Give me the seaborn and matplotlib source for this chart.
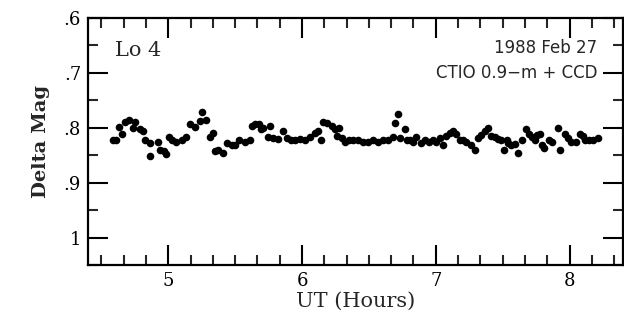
import numpy as np
import pandas as pd
import matplotlib
matplotlib.use("Agg")
import matplotlib.pyplot as plt
from matplotlib.ticker import MultipleLocator, FixedLocator, FuncFormatter
import seaborn as sns

ut_hours = [4.587, 4.612, 4.629, 4.654, 4.679, 4.704, 4.737, 4.754, 4.786, 4.811,
            4.828, 4.860, 4.866, 4.920, 4.935, 4.965, 4.985, 5.002, 5.028, 5.060,
            5.102, 5.134, 5.164, 5.201, 5.239, 5.250, 5.284, 5.310, 5.335, 5.351,
            5.375, 5.408, 5.438, 5.475, 5.500, 5.532, 5.575, 5.612, 5.625, 5.649,
            5.681, 5.692, 5.711, 5.749, 5.761, 5.786, 5.823, 5.860, 5.886, 5.916,
            5.948, 5.985, 6.022, 6.060, 6.097, 6.119, 6.140, 6.157, 6.187, 6.222,
            6.246, 6.259, 6.278, 6.296, 6.321, 6.353, 6.383, 6.420, 6.457, 6.495,
            6.532, 6.569, 6.602, 6.644, 6.677, 6.694, 6.719, 6.731, 6.769, 6.786,
            6.806, 6.831, 6.856, 6.886, 6.918, 6.950, 6.980, 7.005, 7.035, 7.054,
            7.080, 7.104, 7.129, 7.154, 7.179, 7.204, 7.229, 7.266, 7.291, 7.316,
            7.341, 7.366, 7.390, 7.416, 7.440, 7.465, 7.490, 7.507, 7.532, 7.540,
            7.565, 7.590, 7.614, 7.647, 7.672, 7.696, 7.722, 7.739, 7.756, 7.781,
            7.796, 7.813, 7.846, 7.871, 7.913, 7.931, 7.963, 7.988, 8.013, 8.045,
            8.075, 8.099, 8.119, 8.149, 8.179, 8.211]
delta_mag = [0.822, 0.822, 0.798, 0.812, 0.789, 0.786, 0.800, 0.789, 0.803, 0.806,
             0.822, 0.828, 0.852, 0.825, 0.840, 0.843, 0.848, 0.817, 0.823, 0.825,
             0.822, 0.817, 0.794, 0.799, 0.788, 0.772, 0.786, 0.817, 0.809, 0.842,
             0.840, 0.846, 0.828, 0.831, 0.831, 0.823, 0.825, 0.822, 0.797, 0.793,
             0.793, 0.803, 0.801, 0.817, 0.797, 0.819, 0.820, 0.806, 0.819, 0.822,
             0.822, 0.820, 0.822, 0.817, 0.809, 0.806, 0.823, 0.789, 0.791, 0.797,
             0.803, 0.815, 0.800, 0.819, 0.825, 0.823, 0.823, 0.823, 0.825, 0.825,
             0.823, 0.825, 0.822, 0.823, 0.817, 0.791, 0.774, 0.819, 0.803, 0.823,
             0.822, 0.825, 0.817, 0.828, 0.823, 0.825, 0.822, 0.825, 0.819, 0.831,
             0.815, 0.809, 0.806, 0.812, 0.822, 0.823, 0.825, 0.831, 0.840, 0.819,
             0.814, 0.806, 0.800, 0.815, 0.817, 0.820, 0.822, 0.840, 0.823, 0.828,
             0.831, 0.830, 0.846, 0.823, 0.803, 0.812, 0.817, 0.822, 0.814, 0.811,
             0.831, 0.837, 0.823, 0.825, 0.800, 0.840, 0.812, 0.819, 0.825, 0.825,
             0.811, 0.815, 0.822, 0.822, 0.822, 0.819]

x_major = [5, 6, 7, 8]
y_major = [0.6, 0.7, 0.8, 0.9, 1.0]
y_tick_labels = [".6", ".7", ".8", ".9", "1"]

df = pd.DataFrame({"UT": ut_hours, "dmag": delta_mag})

sns.set_style("ticks")
plt.rcParams["axes.linewidth"] = 1.6

fig = plt.figure(figsize=(6.24, 3.21), dpi=100)
ax = fig.add_axes([88 / 624, 1 - 265 / 321, (623 - 88) / 624, (265 - 18) / 321])

sns.scatterplot(data=df, x="UT", y="dmag", ax=ax, color="black", s=30,
                edgecolor="black", linewidth=0, legend=False)

ax.set_xlim(4.4, 8.4)
ax.set_ylim(1.05, 0.6)

ax.xaxis.set_major_locator(FixedLocator(x_major))
ax.xaxis.set_minor_locator(MultipleLocator(1 / 6))
ax.yaxis.set_major_locator(FixedLocator(y_major))
ax.yaxis.set_minor_locator(MultipleLocator(0.05))
ax.set_yticklabels(y_tick_labels)
ax.xaxis.set_major_formatter(FuncFormatter(lambda v, p: f"{v:g}"))

for s in ax.spines.values():
    s.set_visible(True)
    s.set_linewidth(1.6)
    s.set_color("black")

ax.tick_params(which="major", direction="in", length=14.5, width=1.5,
               top=True, right=True, labelsize=13, pad=5, colors="black")
ax.tick_params(which="minor", direction="in", length=7.5, width=1.5,
               top=True, right=True)
for lab in ax.get_xticklabels() + ax.get_yticklabels():
    lab.set_family("DejaVu Serif")

ax.set_xlabel("UT (Hours)", family="DejaVu Serif", fontsize=15, labelpad=1)
ax.set_ylabel("Delta Mag", family="DejaVu Serif", fontweight="bold", fontsize=14, labelpad=10)

ax.text(115 / 624, 1 - 50 / 321, "Lo 4", transform=fig.transFigure,
        family="DejaVu Serif", fontsize=15, ha="left", va="center")
ax.text(597 / 624, 1 - 48 / 321, "1988 Feb 27", transform=fig.transFigure,
        family="DejaVu Sans", fontsize=12, ha="right", va="center")
ax.text(597 / 624, 1 - 73 / 321, "CTIO 0.9\u2212m + CCD", transform=fig.transFigure,
        family="DejaVu Sans", fontsize=12, ha="right", va="center")

fig.savefig("out.png", dpi=100)
